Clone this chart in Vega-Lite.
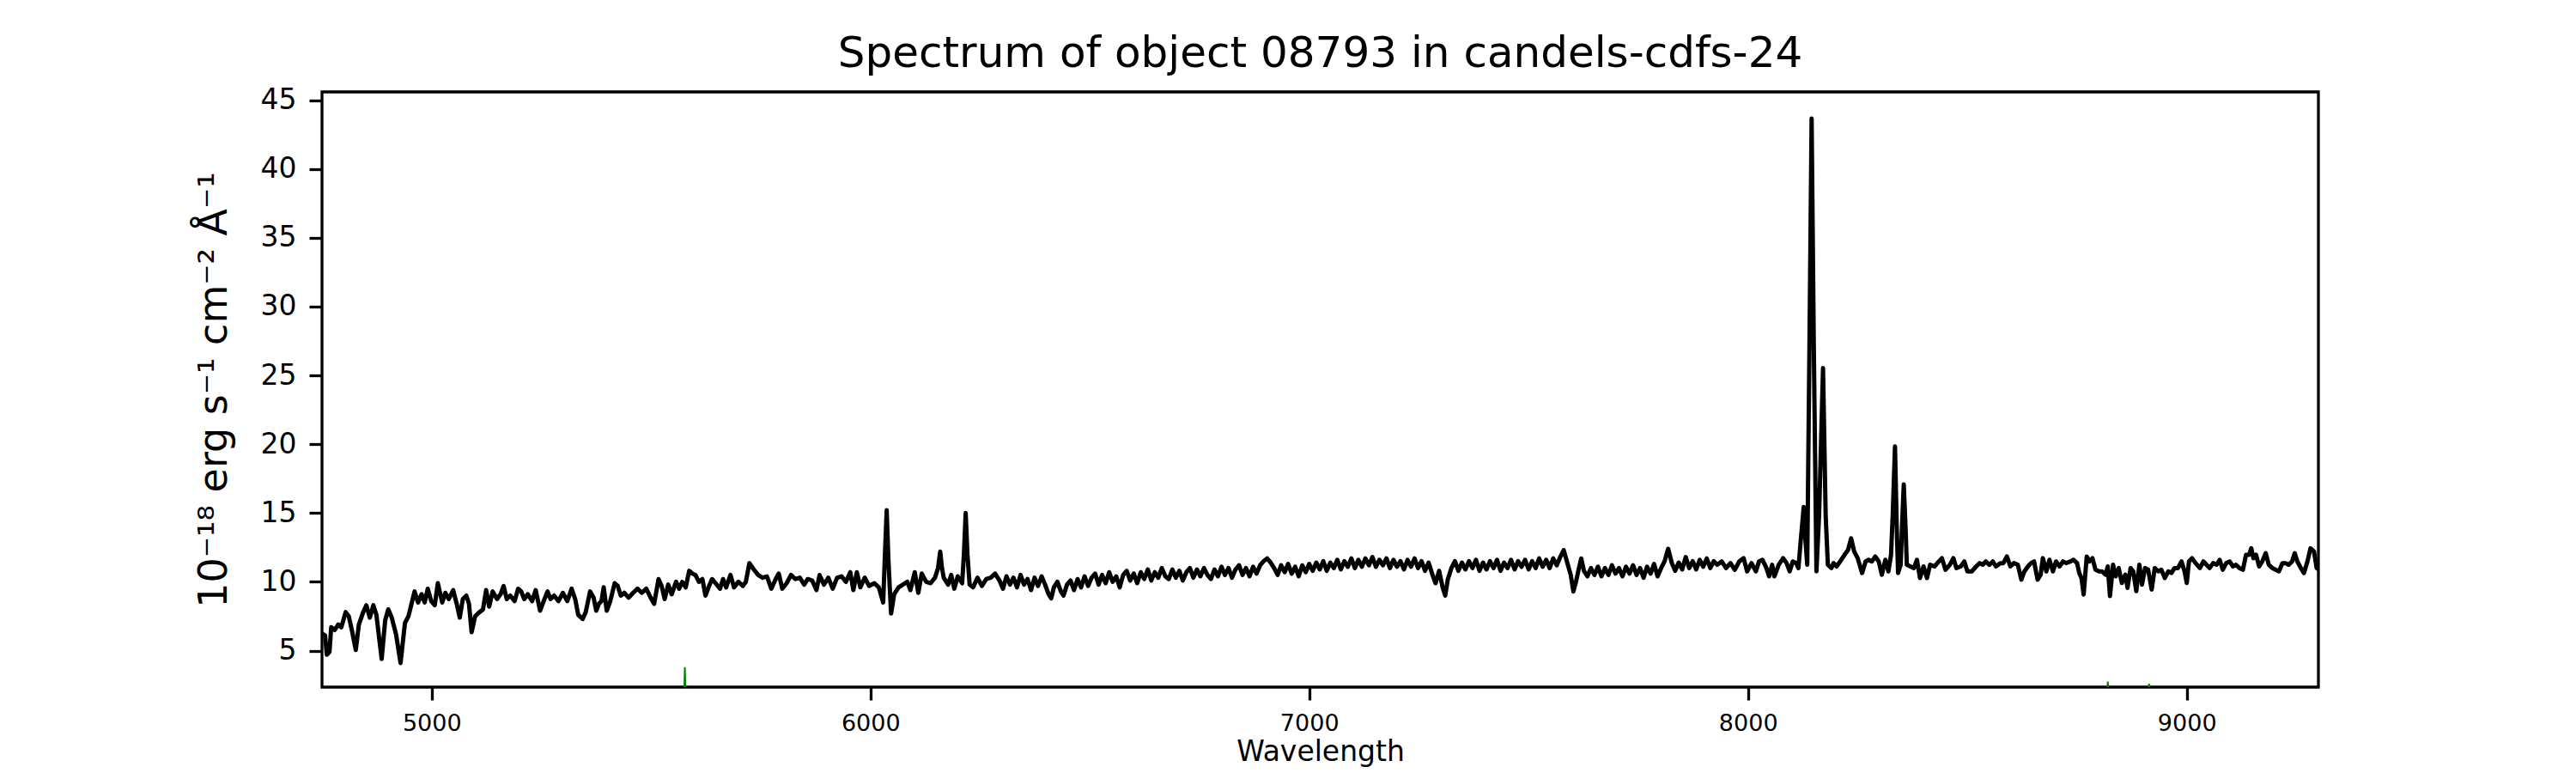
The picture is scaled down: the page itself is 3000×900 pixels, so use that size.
{
"$schema": "https://vega.github.io/schema/vega-lite/v6.json",
"width": 2325,
"height": 693,
"autosize": {"type": "none"},
"padding": {"left": 375, "top": 107, "right": 300, "bottom": 100},
"background": "white",
"config": {
  "font": "DejaVu Sans",
  "view": {"stroke": "black", "strokeWidth": 3.3},
  "axis": {"grid": false, "domain": false, "tickColor": "black", "tickWidth": 3.3, "tickSize": 15, "labelColor": "black", "titleColor": "black", "labelFont": "DejaVu Sans", "titleFont": "DejaVu Sans", "titleFontWeight": "normal"}
},
"title": {"text": "Spectrum of object 08793 in candels-cdfs-24", "fontSize": 50, "font": "DejaVu Sans", "fontWeight": "normal", "color": "black", "frame": "group", "anchor": "middle", "baseline": "alphabetic", "offset": 10, "dy": 37},
"datasets": {
"spec": [
{"w":4750,"f":6.25},{"w":4757,"f":6.1},{"w":4761,"f":4.7},{"w":4767,"f":4.9},{"w":4771,"f":6.7},{"w":4779,"f":6.5},{"w":4787,"f":6.9},{"w":4794,"f":6.7},{"w":4804,"f":7.8},{"w":4811,"f":7.5},{"w":4819,"f":6.35},{"w":4827,"f":5.05},{"w":4834,"f":6.9},{"w":4844,"f":7.8},{"w":4851,"f":8.3},{"w":4859,"f":7.4},{"w":4867,"f":8.3},{"w":4874,"f":7.6},{"w":4886,"f":4.4},{"w":4894,"f":7.2},{"w":4901,"f":8.0},{"w":4909,"f":7.4},{"w":4919,"f":6.15},{"w":4929,"f":4.1},{"w":4939,"f":7.0},{"w":4947,"f":7.5},{"w":4954,"f":8.4},{"w":4961,"f":9.3},{"w":4969,"f":8.5},{"w":4977,"f":9.1},{"w":4984,"f":8.5},{"w":4991,"f":9.5},{"w":4999,"f":8.6},{"w":5007,"f":8.3},{"w":5014,"f":9.9},{"w":5024,"f":8.5},{"w":5031,"f":9.2},{"w":5039,"f":8.75},{"w":5049,"f":9.4},{"w":5057,"f":8.4},{"w":5064,"f":7.4},{"w":5071,"f":8.75},{"w":5079,"f":9.0},{"w":5085,"f":8.4},{"w":5091,"f":6.35},{"w":5099,"f":7.5},{"w":5109,"f":7.8},{"w":5117,"f":8.0},{"w":5124,"f":9.4},{"w":5131,"f":8.2},{"w":5139,"f":9.3},{"w":5149,"f":8.75},{"w":5157,"f":9.1},{"w":5164,"f":9.7},{"w":5171,"f":8.75},{"w":5179,"f":9.0},{"w":5189,"f":8.6},{"w":5197,"f":9.5},{"w":5204,"f":9.3},{"w":5211,"f":8.75},{"w":5219,"f":9.1},{"w":5229,"f":8.6},{"w":5237,"f":9.4},{"w":5247,"f":7.9},{"w":5254,"f":8.5},{"w":5264,"f":9.3},{"w":5271,"f":8.75},{"w":5279,"f":9.0},{"w":5289,"f":8.6},{"w":5299,"f":9.2},{"w":5309,"f":8.6},{"w":5319,"f":9.5},{"w":5327,"f":8.75},{"w":5334,"f":7.6},{"w":5344,"f":7.3},{"w":5351,"f":7.8},{"w":5361,"f":9.3},{"w":5369,"f":8.85},{"w":5375,"f":7.9},{"w":5381,"f":8.4},{"w":5387,"f":8.6},{"w":5392,"f":9.6},{"w":5399,"f":7.9},{"w":5407,"f":8.6},{"w":5417,"f":9.9},{"w":5424,"f":9.7},{"w":5431,"f":9.0},{"w":5439,"f":9.2},{"w":5449,"f":8.85},{"w":5459,"f":9.2},{"w":5469,"f":9.5},{"w":5479,"f":9.2},{"w":5489,"f":9.5},{"w":5499,"f":8.85},{"w":5507,"f":8.4},{"w":5517,"f":10.2},{"w":5524,"f":9.7},{"w":5531,"f":8.75},{"w":5539,"f":9.8},{"w":5547,"f":9.1},{"w":5557,"f":10.0},{"w":5564,"f":9.5},{"w":5571,"f":10.0},{"w":5579,"f":9.6},{"w":5587,"f":10.8},{"w":5594,"f":10.6},{"w":5601,"f":10.5},{"w":5609,"f":10.0},{"w":5617,"f":10.2},{"w":5624,"f":9.0},{"w":5631,"f":9.6},{"w":5639,"f":10.2},{"w":5647,"f":9.9},{"w":5657,"f":9.5},{"w":5664,"f":10.2},{"w":5671,"f":9.6},{"w":5681,"f":10.5},{"w":5689,"f":9.6},{"w":5699,"f":10.0},{"w":5709,"f":9.7},{"w":5716,"f":10.0},{"w":5724,"f":11.35},{"w":5734,"f":10.9},{"w":5744,"f":10.5},{"w":5754,"f":10.3},{"w":5764,"f":10.4},{"w":5774,"f":9.5},{"w":5784,"f":10.2},{"w":5791,"f":10.6},{"w":5799,"f":9.5},{"w":5809,"f":9.9},{"w":5819,"f":10.5},{"w":5829,"f":10.2},{"w":5839,"f":10.3},{"w":5849,"f":9.8},{"w":5857,"f":10.2},{"w":5867,"f":10.1},{"w":5877,"f":9.4},{"w":5884,"f":10.5},{"w":5894,"f":9.8},{"w":5904,"f":10.3},{"w":5914,"f":9.5},{"w":5924,"f":10.3},{"w":5934,"f":10.4},{"w":5944,"f":10.0},{"w":5954,"f":10.7},{"w":5961,"f":9.4},{"w":5969,"f":10.7},{"w":5977,"f":9.6},{"w":5987,"f":10.3},{"w":5997,"f":9.7},{"w":6009,"f":9.9},{"w":6019,"f":9.6},{"w":6029,"f":8.5},{"w":6033,"f":12.0},{"w":6037,"f":15.2},{"w":6041,"f":11.5},{"w":6047,"f":7.7},{"w":6054,"f":9.1},{"w":6064,"f":9.6},{"w":6074,"f":9.8},{"w":6084,"f":10.0},{"w":6091,"f":9.4},{"w":6101,"f":10.7},{"w":6109,"f":9.2},{"w":6117,"f":10.6},{"w":6127,"f":10.0},{"w":6137,"f":9.9},{"w":6147,"f":10.3},{"w":6154,"f":11.0},{"w":6159,"f":12.2},{"w":6163,"f":11.0},{"w":6167,"f":10.3},{"w":6177,"f":9.8},{"w":6184,"f":10.5},{"w":6191,"f":9.5},{"w":6199,"f":10.4},{"w":6209,"f":9.9},{"w":6213,"f":12.0},{"w":6217,"f":15.0},{"w":6221,"f":12.0},{"w":6226,"f":9.8},{"w":6234,"f":9.6},{"w":6244,"f":10.3},{"w":6254,"f":9.7},{"w":6264,"f":10.2},{"w":6274,"f":10.3},{"w":6284,"f":10.6},
{"w":6294,"f":10.1},{"w":6302,"f":9.5},{"w":6310,"f":10.4},{"w":6318,"f":9.8},{"w":6326,"f":10.3},{"w":6334,"f":9.6},{"w":6342,"f":10.5},{"w":6350,"f":9.8},{"w":6358,"f":10.2},{"w":6366,"f":9.4},{"w":6374,"f":10.3},{"w":6382,"f":9.7},{"w":6390,"f":10.4},{"w":6398,"f":9.8},{"w":6406,"f":9.1},{"w":6412,"f":8.8},{"w":6418,"f":9.6},{"w":6426,"f":10.0},{"w":6434,"f":9.3},{"w":6440,"f":9.0},{"w":6448,"f":9.8},{"w":6456,"f":10.1},{"w":6464,"f":9.4},{"w":6472,"f":10.2},{"w":6480,"f":9.6},{"w":6488,"f":10.4},{"w":6496,"f":9.7},{"w":6504,"f":10.3},{"w":6512,"f":10.6},{"w":6520,"f":9.8},{"w":6528,"f":10.5},{"w":6536,"f":9.9},{"w":6544,"f":10.7},{"w":6552,"f":10.0},{"w":6560,"f":10.4},{"w":6568,"f":9.6},{"w":6576,"f":10.5},{"w":6584,"f":10.8},{"w":6592,"f":10.1},{"w":6600,"f":10.6},{"w":6608,"f":9.9},{"w":6616,"f":10.7},{"w":6624,"f":10.2},{"w":6632,"f":10.9},{"w":6640,"f":10.1},{"w":6648,"f":10.7},{"w":6656,"f":10.3},{"w":6664,"f":11.0},{"w":6672,"f":10.4},{"w":6680,"f":10.2},{"w":6688,"f":10.9},{"w":6696,"f":10.3},{"w":6704,"f":10.8},{"w":6712,"f":10.1},{"w":6720,"f":10.7},{"w":6728,"f":11.0},{"w":6736,"f":10.3},{"w":6744,"f":10.9},{"w":6752,"f":10.4},{"w":6760,"f":11.0},{"w":6768,"f":10.5},{"w":6776,"f":10.2},{"w":6784,"f":10.9},{"w":6792,"f":10.4},{"w":6800,"f":11.1},{"w":6808,"f":10.5},{"w":6816,"f":11.0},{"w":6824,"f":10.3},{"w":6832,"f":10.9},{"w":6840,"f":11.2},{"w":6848,"f":10.5},{"w":6856,"f":11.0},{"w":6864,"f":10.4},{"w":6872,"f":11.1},{"w":6880,"f":10.6},{"w":6888,"f":11.2},{"w":6896,"f":11.5},{"w":6904,"f":11.7},{"w":6912,"f":11.4},{"w":6920,"f":11.0},{"w":6928,"f":10.5},{"w":6936,"f":11.2},{"w":6944,"f":10.7},{"w":6952,"f":11.3},{"w":6960,"f":10.6},{"w":6968,"f":11.1},{"w":6976,"f":10.4},{"w":6984,"f":11.2},{"w":6992,"f":10.7},{"w":7000,"f":11.3},{"w":7008,"f":10.8},{"w":7016,"f":11.4},{"w":7024,"f":10.9},{"w":7032,"f":11.5},{"w":7040,"f":10.8},{"w":7048,"f":11.4},{"w":7056,"f":11.0},{"w":7064,"f":11.6},{"w":7072,"f":10.9},{"w":7080,"f":11.5},{"w":7088,"f":11.1},{"w":7096,"f":11.7},{"w":7104,"f":11.0},{"w":7112,"f":11.6},{"w":7120,"f":11.1},{"w":7128,"f":11.7},{"w":7136,"f":11.2},{"w":7144,"f":11.8},{"w":7152,"f":11.1},{"w":7160,"f":11.6},{"w":7168,"f":11.2},{"w":7176,"f":11.7},{"w":7184,"f":11.0},{"w":7192,"f":11.6},{"w":7200,"f":11.1},{"w":7208,"f":11.5},{"w":7216,"f":10.9},{"w":7224,"f":11.6},{"w":7232,"f":11.1},{"w":7240,"f":11.7},{"w":7248,"f":11.0},{"w":7256,"f":11.5},{"w":7264,"f":10.8},{"w":7272,"f":11.4},{"w":7280,"f":10.6},{"w":7288,"f":9.9},{"w":7296,"f":10.8},{"w":7304,"f":9.6},{"w":7310,"f":9.0},{"w":7316,"f":10.2},{"w":7324,"f":11.0},{"w":7332,"f":11.5},{"w":7340,"f":10.8},{"w":7348,"f":11.4},{"w":7356,"f":10.9},{"w":7364,"f":11.5},{"w":7372,"f":11.0},{"w":7380,"f":11.6},{"w":7388,"f":10.8},{"w":7396,"f":11.4},{"w":7404,"f":10.9},{"w":7412,"f":11.5},{"w":7420,"f":11.0},{"w":7428,"f":11.6},{"w":7436,"f":10.8},{"w":7444,"f":11.4},{"w":7452,"f":11.0},{"w":7460,"f":11.6},{"w":7468,"f":10.9},{"w":7476,"f":11.5},{"w":7484,"f":11.1},{"w":7492,"f":11.6},{"w":7500,"f":10.9},{"w":7508,"f":11.5},{"w":7516,"f":11.0},{"w":7524,"f":11.7},{"w":7532,"f":11.1},{"w":7540,"f":11.6},{"w":7548,"f":11.0},{"w":7556,"f":11.7},{"w":7564,"f":11.2},{"w":7572,"f":11.8},{"w":7580,"f":12.3},{"w":7588,"f":11.4},{"w":7596,"f":10.5},{"w":7602,"f":9.3},{"w":7608,"f":10.0},{"w":7614,"f":10.9},{"w":7620,"f":11.7},{"w":7626,"f":10.8},{"w":7634,"f":10.4},{"w":7642,"f":11.0},{"w":7650,"f":10.5},{"w":7658,"f":11.1},{"w":7666,"f":10.4},{"w":7674,"f":11.0},{"w":7682,"f":10.5},{"w":7690,"f":11.2},{"w":7698,"f":10.6},{"w":7706,"f":11.0},{"w":7714,"f":10.4},{"w":7722,"f":11.1},{"w":7730,"f":10.6},{"w":7738,"f":11.2},{"w":7746,"f":10.5},{"w":7754,"f":11.0},{"w":7762,"f":10.3},{"w":7770,"f":11.1},{"w":7778,"f":10.6},{"w":7786,"f":11.3},{"w":7794,"f":10.4},{"w":7802,"f":11.0},{"w":7810,"f":11.5},{"w":7818,"f":12.4},{"w":7826,"f":11.4},{"w":7834,"f":10.8},{"w":7842,"f":11.4},{"w":7850,"f":10.9},{"w":7858,"f":11.8},{"w":7866,"f":11.0},{"w":7874,"f":11.5},{"w":7882,"f":10.9},{"w":7890,"f":11.6},{"w":7898,"f":11.1},{"w":7906,"f":11.7},{"w":7914,"f":11.0},{"w":7922,"f":11.5},{"w":7930,"f":11.24},
{"w":7940,"f":11.48},{"w":7950,"f":11.0},{"w":7960,"f":11.36},{"w":7970,"f":10.88},{"w":7980,"f":11.48},{"w":7990,"f":11.72},{"w":7998,"f":10.76},{"w":8008,"f":11.36},{"w":8018,"f":10.76},{"w":8025,"f":11.48},{"w":8033,"f":11.6},{"w":8042,"f":11.0},{"w":8048,"f":10.4},{"w":8055,"f":11.24},{"w":8060,"f":10.4},{"w":8070,"f":11.24},{"w":8080,"f":11.72},{"w":8088,"f":11.36},{"w":8095,"f":10.76},{"w":8102,"f":11.48},{"w":8110,"f":11.36},{"w":8115,"f":11.0},{"w":8120,"f":12.92},{"w":8127,"f":15.44},{"w":8131,"f":13.0},{"w":8135,"f":11.24},{"w":8140,"f":27.0},{"w":8145,"f":43.67},{"w":8150,"f":27.0},{"w":8156,"f":10.76},{"w":8162,"f":14.84},{"w":8171,"f":25.53},{"w":8177,"f":14.84},{"w":8182,"f":11.24},{"w":8190,"f":11.0},{"w":8195,"f":11.36},{"w":8202,"f":11.12},{"w":8210,"f":11.48},{"w":8220,"f":11.96},{"w":8228,"f":12.32},{"w":8235,"f":13.16},{"w":8242,"f":12.2},{"w":8250,"f":11.72},{"w":8260,"f":10.64},{"w":8268,"f":11.48},{"w":8275,"f":11.6},{"w":8282,"f":11.48},{"w":8290,"f":11.84},{"w":8298,"f":11.48},{"w":8305,"f":10.52},{"w":8313,"f":11.6},{"w":8320,"f":10.76},{"w":8326,"f":11.96},{"w":8330,"f":15.0},{"w":8335,"f":19.84},{"w":8339,"f":14.0},{"w":8342,"f":10.64},{"w":8348,"f":11.24},{"w":8351,"f":14.0},{"w":8355,"f":17.08},{"w":8359,"f":14.0},{"w":8362,"f":11.24},{"w":8370,"f":11.12},{"w":8378,"f":11.0},{"w":8385,"f":11.6},{"w":8392,"f":10.28},{"w":8400,"f":11.12},{"w":8408,"f":10.28},{"w":8415,"f":11.24},{"w":8425,"f":11.12},{"w":8435,"f":11.48},{"w":8442,"f":11.72},{"w":8450,"f":10.88},{"w":8460,"f":11.24},{"w":8468,"f":11.72},{"w":8475,"f":11.0},{"w":8485,"f":11.12},{"w":8493,"f":11.48},{"w":8500,"f":10.76},{"w":8510,"f":10.76},{"w":8520,"f":11.12},{"w":8528,"f":11.36},{"w":8535,"f":11.24},{"w":8542,"f":11.48},{"w":8550,"f":11.24},{"w":8558,"f":11.48},{"w":8565,"f":11.12},{"w":8575,"f":11.36},{"w":8582,"f":11.36},{"w":8590,"f":11.84},{"w":8598,"f":11.12},{"w":8606,"f":11.36},{"w":8615,"f":11.24},{"w":8623,"f":10.16},{"w":8630,"f":10.76},{"w":8638,"f":11.12},{"w":8645,"f":11.36},{"w":8652,"f":11.48},{"w":8660,"f":10.16},{"w":8667,"f":10.52},{"w":8672,"f":11.72},{"w":8680,"f":10.76},{"w":8687,"f":11.6},{"w":8695,"f":10.76},{"w":8702,"f":11.48},{"w":8710,"f":11.12},{"w":8718,"f":11.48},{"w":8725,"f":11.36},{"w":8735,"f":11.48},{"w":8742,"f":11.6},{"w":8750,"f":11.36},{"w":8755,"f":10.64},{"w":8760,"f":10.28},{"w":8765,"f":9.08},{"w":8772,"f":11.84},{"w":8778,"f":11.48},{"w":8785,"f":11.72},{"w":8792,"f":10.88},{"w":8800,"f":10.76},{"w":8807,"f":10.76},{"w":8815,"f":10.52},{"w":8820,"f":11.12},{"w":8825,"f":8.96},{"w":8832,"f":11.24},{"w":8838,"f":10.4},{"w":8845,"f":11.0},{"w":8852,"f":9.92},{"w":8860,"f":10.52},{"w":8865,"f":9.56},{"w":8872,"f":11.0},{"w":8878,"f":10.76},{"w":8885,"f":9.32},{"w":8892,"f":11.24},{"w":8898,"f":9.8},{"w":8905,"f":11.0},{"w":8912,"f":10.88},{"w":8920,"f":9.44},{"w":8927,"f":11.0},{"w":8935,"f":10.76},{"w":8942,"f":10.88},{"w":8950,"f":10.28},{"w":8958,"f":10.76},{"w":8965,"f":10.64},{"w":8972,"f":11.0},{"w":8980,"f":11.0},{"w":8988,"f":11.48},{"w":8995,"f":10.76},{"w":9000,"f":9.92},{"w":9005,"f":11.48},{"w":9012,"f":11.72},{"w":9020,"f":11.36},{"w":9030,"f":11.0},{"w":9038,"f":11.48},{"w":9045,"f":11.24},{"w":9052,"f":11.0},{"w":9060,"f":11.36},{"w":9068,"f":11.24},{"w":9075,"f":11.6},{"w":9082,"f":10.88},{"w":9090,"f":11.36},{"w":9098,"f":11.48},{"w":9105,"f":11.12},{"w":9112,"f":11.24},{"w":9120,"f":11.0},{"w":9128,"f":10.88},{"w":9135,"f":11.96},{"w":9142,"f":11.96},{"w":9147,"f":12.44},{"w":9152,"f":11.72},{"w":9158,"f":11.96},{"w":9165,"f":11.12},{"w":9172,"f":11.48},{"w":9180,"f":12.08},{"w":9187,"f":11.24},{"w":9195,"f":11.0},{"w":9202,"f":10.88},{"w":9210,"f":10.76},{"w":9218,"f":11.36},{"w":9225,"f":11.36},{"w":9232,"f":11.24},{"w":9240,"f":11.48},{"w":9246,"f":12.08},{"w":9252,"f":11.48},{"w":9260,"f":11.0},{"w":9267,"f":10.64},{"w":9275,"f":11.48},{"w":9282,"f":12.44},{"w":9290,"f":12.2},{"w":9296,"f":11.0},{"w":9302,"f":10.88}
],
"sky": [
{"w":4750,"f":0},{"w":5570,"f":0},{"w":5575,"f":1.2},{"w":5577,"f":3.8},{"w":5579,"f":1.2},{"w":5584,"f":0},{"w":8810,"f":0},{"w":8818,"f":1.8},{"w":8820,"f":2.75},{"w":8822,"f":1.8},{"w":8830,"f":0},{"w":8905,"f":0},{"w":8912,"f":1.8},{"w":8914,"f":2.6},{"w":8916,"f":1.8},{"w":8925,"f":0},{"w":9300,"f":0}
]
},
"layer": [
{
"data": {"name": "sky"},
"mark": {"type": "line", "color": "green", "strokeWidth": 2, "clip": true},
"encoding": {
"x": {"field": "w", "type": "quantitative", "scale": {"domain": [4750, 9300], "nice": false, "zero": false},
  "axis": {"title": "Wavelength", "values": [5000, 6000, 7000, 8000, 9000], "labelFontSize": 27, "labelPadding": 14, "titleFontSize": 33, "titlePadding": 4, "format": "d"}},
"y": {"field": "f", "type": "quantitative", "scale": {"domain": [2.35, 45.6], "nice": false, "zero": false},
  "axis": {"title": "10⁻¹⁸ erg s⁻¹ cm⁻² Å⁻¹", "values": [5, 10, 15, 20, 25, 30, 35, 40, 45], "labelFontSize": 33, "labelPadding": 15, "titleFontSize": 46, "titlePadding": 30, "format": "d"}}
}
},
{
"data": {"name": "spec"},
"mark": {"type": "line", "color": "black", "strokeWidth": 5, "clip": true, "strokeJoin": "round"},
"encoding": {
"x": {"field": "w", "type": "quantitative"},
"y": {"field": "f", "type": "quantitative"}
}
}
]
}
